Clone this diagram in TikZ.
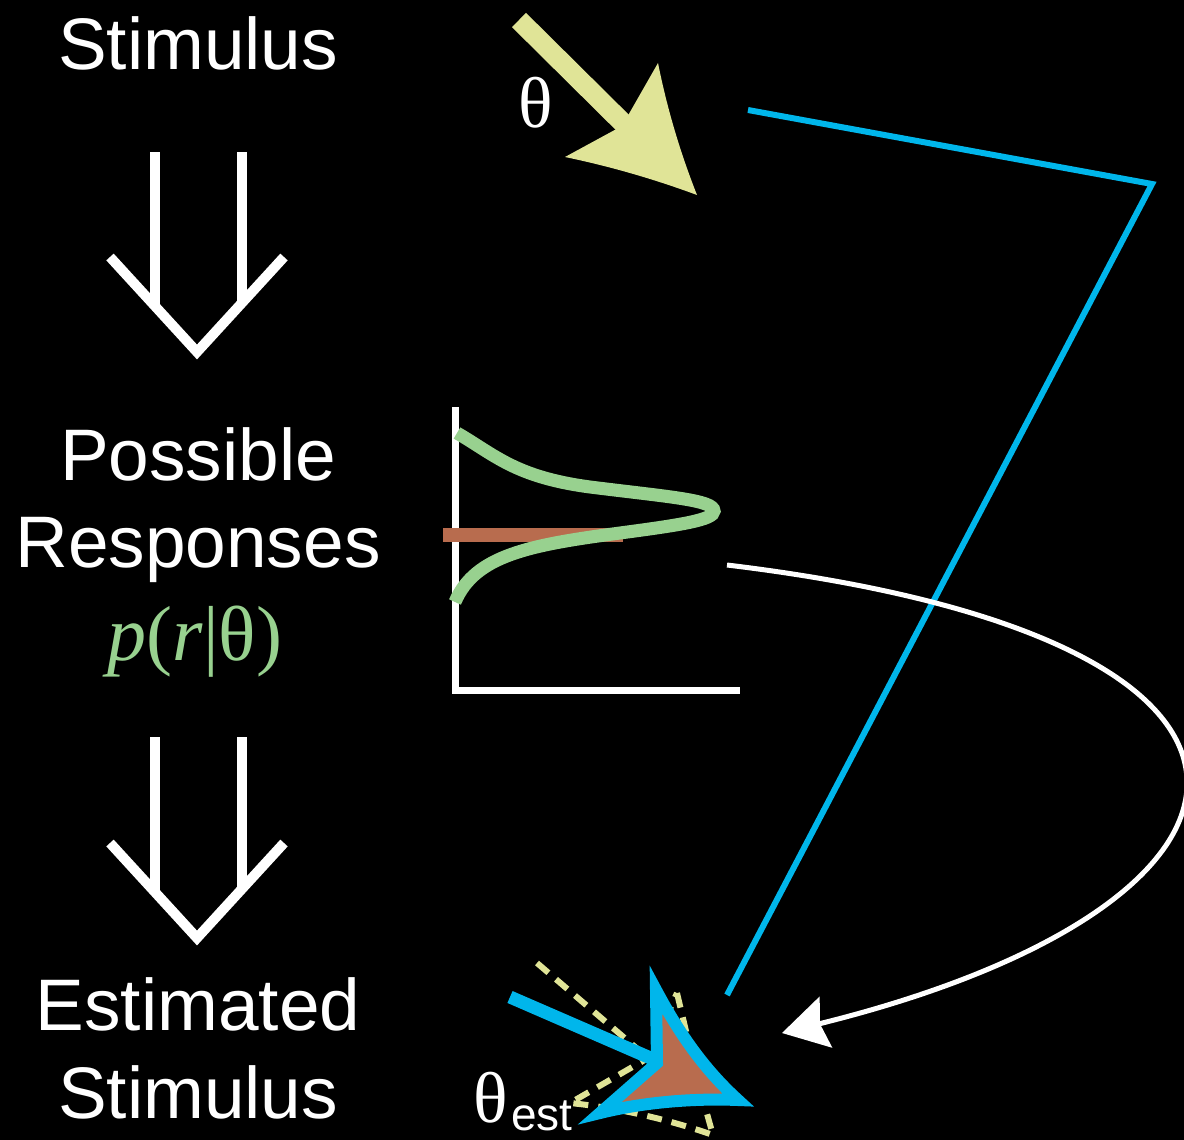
\documentclass[tikz,border=0pt]{standalone}
\usepackage{fontspec}
\setmainfont{Liberation Sans}
\newfontfamily\seriffam{Liberation Serif}
\usetikzlibrary{arrows.meta}
\definecolor{cblue}{HTML}{00B6EB}
\definecolor{cyellow}{HTML}{E0E497}
\definecolor{cgreen}{HTML}{98D18F}
\definecolor{cbrown}{HTML}{B86C4E}
\begin{document}
\begin{tikzpicture}[x=1pt,y=-1pt,
  lbl/.style={text=white, font=\fontsize{73}{80}\selectfont, anchor=base, inner sep=0pt},
  thlbl/.style={text=white, font=\seriffam\fontsize{72}{80}\selectfont, anchor=base, inner sep=0pt},
  dblarrow/.style={draw=white, line width=10pt, line join=miter},
  axisline/.style={draw=white, line width=7pt},
  blueline/.style={draw=cblue, line width=6pt, line join=miter},
  whitecurve/.style={draw=white, line width=5pt, -{Stealth[length=45pt,width=52pt,inset=6pt]}},
  yshaft/.style={draw=cyellow, line width=20pt},
  ydash/.style={draw=cyellow, line width=6pt, dash pattern=on 15pt off 10pt},
]
\fill[black] (0,0) rectangle (1184,1140);
\useasboundingbox (0,0) rectangle (1184,1140);

% labels
\node[lbl] (stim) at (198,70) {Stimulus};
\node[lbl] (poss) at (198,480) {Possible};
\node[lbl] (resp) at (198,567) {Responses};
\node[thlbl, text=cgreen, font=\seriffam\fontsize{78}{84}\selectfont] (prob) at (195,660) {\itshape p\upshape(\itshape r\upshape|θ)};
\node[lbl] (esti) at (198,1030) {Estimated};
\node[lbl] (stim2) at (198,1118) {Stimulus};
\node[thlbl] (theta) at (536,127) {θ};
\node[thlbl, anchor=base west] (thetaest) at (473,1122) {θ};
\node[text=white, font=\fontsize{46}{52}\selectfont, anchor=base west, inner sep=0pt] (est) at (511,1130) {est};

% double arrow 1
\draw[dblarrow] (155,152) -- (155,306);
\draw[dblarrow] (242,152) -- (242,303);
\draw[dblarrow] (110,257) -- (197,352) -- (284,257);
% double arrow 2
\draw[dblarrow] (155,737) -- (155,892);
\draw[dblarrow] (242,737) -- (242,889);
\draw[dblarrow] (110,843) -- (197,938) -- (284,843);

% stimulus arrow (yellow)
\coordinate (ystart) at (519,20);
\coordinate (ynotch) at (628,128);
\draw[yshaft] (ystart) -- (ynotch);
\fill[cyellow] (658,63) .. controls (667,108) and (680,152) .. (697,195)
   .. controls (651,178) and (608,166) .. (565,157) -- (622,126) -- cycle;

% graph
\coordinate (ax0) at (455,690);
\draw[axisline] (455,407) -- (ax0) -- (740,690);
\draw[draw=cbrown, line width=14pt] (443,535) -- (623,535);
\draw[draw=cgreen, line width=13pt] (457,433) .. controls (495,455) and (515,477) .. (590,487)
   .. controls (670,497) and (714,500) .. (714,511)
   .. controls (714,520) and (680,525) .. (620,533)
   .. controls (530,545) and (475,555) .. (455,602);

% blue route
\coordinate (bstart) at (748,110);
\coordinate (bcorner) at (1152,184);
\coordinate (bend) at (727,995);
\draw[blueline] (bstart) -- (bcorner) -- (bend);

% white curved arrow
\coordinate (cstart) at (727,565);
\coordinate (ctip) at (782,1033);
\draw[whitecurve] (cstart) .. controls (1350,640) and (1300,905) .. (ctip);

% dashed yellow (original) arrow
\coordinate (dstart) at (537,963);
\coordinate (dnotch) at (648,1058);
\draw[ydash] (dstart) -- (dnotch);
\draw[ydash] (677,993) .. controls (688,1040) and (700,1090) .. (713,1135)
   .. controls (670,1120) and (620,1108) .. (570,1103) -- (dnotch) -- cycle;

% blue estimated arrow
\coordinate (estart) at (510,997);
\coordinate (enotch) at (662,1063);
\draw[draw=cblue, line width=13pt] (estart) -- (enotch);
\filldraw[draw=cblue, fill=cbrown, line width=12pt, line join=miter]
   (656,990) .. controls (680,1035) and (705,1070) .. (738,1100)
   .. controls (690,1098) and (640,1103) .. (600,1113) -- (657,1063) -- cycle;
\end{tikzpicture}
\end{document}
